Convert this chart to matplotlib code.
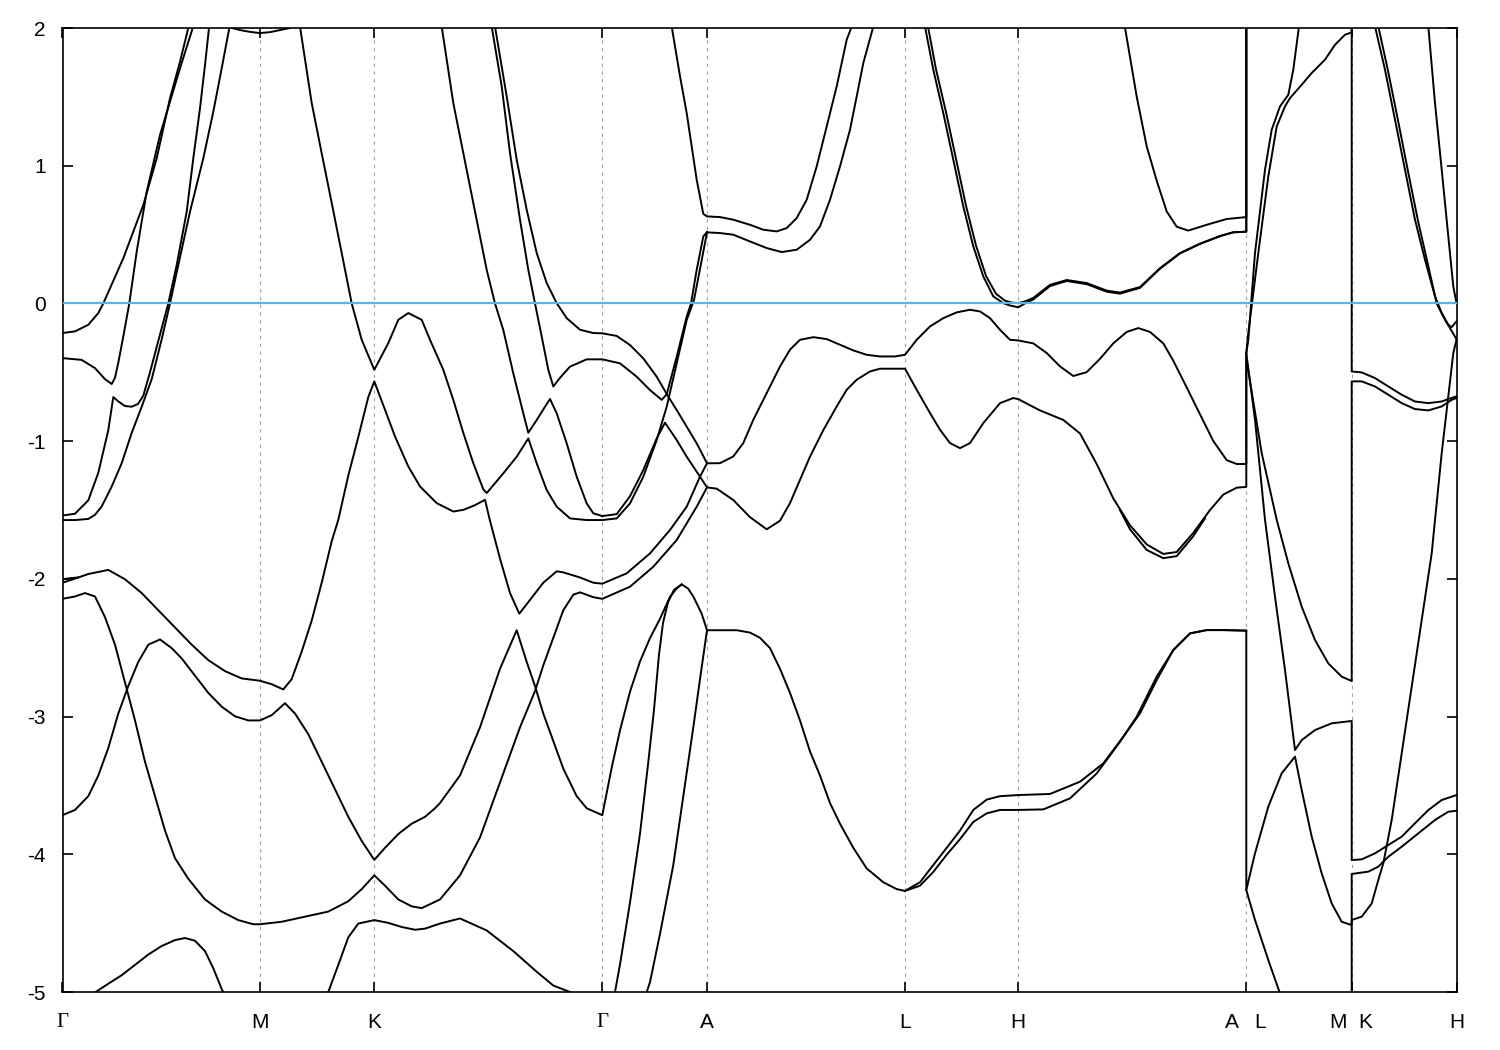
import matplotlib
matplotlib.use('Agg')
import matplotlib.pyplot as plt

plt.rcParams['font.family'] = ['Liberation Sans', 'DejaVu Sans']
plt.rcParams['axes.unicode_minus'] = False

# high-symmetry points along the path (path distance, arbitrary units)
sym_k = [62.5, 260, 374.3, 602.3, 707, 905, 1018.3, 1246.3, 1351.7, 1456.5]
sym_labels = ['Γ', 'M', 'K', 'Γ', 'A', 'L', 'H', 'A   L', 'M  K', 'H']

# ---- band pieces: k (path distance), E (eV) ----
b1_k = [62.5, 75, 88.3, 98.3, 103.3, 123.3, 143.3, 156.7, 170, 180, 188.3]
b1_e = [-0.215, -0.203, -0.155, -0.07, 0.0, 0.328, 0.715, 1.054, 1.49, 1.755, 2.0]

b2_k = [62.5, 81.7, 95, 105, 111.7, 115, 118.3, 123.3, 129.3, 136.7, 146.7, 160, 170, 180, 192.7]
b2_e = [-0.397, -0.41, -0.47, -0.55, -0.585, -0.54, -0.43, -0.24, 0.0, 0.376, 0.811, 1.223, 1.465, 1.707, 2.0]

b3_k = [62.5, 75, 88.3, 98.3, 108.3, 113.3, 118, 125, 131.7, 138, 143.3, 150, 158, 168.3, 176.7, 186.7,
        193.3, 200, 205, 209]
b3_e = [-1.54, -1.527, -1.43, -1.23, -0.92, -0.68, -0.71, -0.745, -0.75, -0.73, -0.67, -0.50, -0.28, 0.0,
        0.279, 0.666, 1.054, 1.417, 1.731, 2.0]

b4_k = [62.5, 75, 88.3, 95, 101.7, 111.7, 121.7, 131.7, 141.7, 151.7, 161.7, 170, 178.3, 190, 203.3, 213.3,
        221.7, 229.3]
b4_e = [-1.573, -1.573, -1.565, -1.535, -1.474, -1.33, -1.16, -0.94, -0.75, -0.55, -0.26, 0.0, 0.279, 0.666,
        1.054, 1.392, 1.707, 2.0]

m_top_k = [232, 240, 250, 260, 270, 280, 290]
m_top_e = [2.0, 1.985, 1.972, 1.963, 1.97, 1.985, 2.0]

c1_k = [300, 311.7, 321.7, 331.7, 341.7, 351.7, 361.7, 374.3, 388.3, 398.3, 408.3, 421.7, 430, 443.3, 453.3,
        463.3, 473.3, 483.3, 486.7, 503.3, 516.7, 528.3, 530, 536.7, 546.7, 556.7, 570, 586.7, 602.3, 616.7,
        630, 643.3, 656.7, 666.7, 676.7, 686.7, 694, 700, 707]
c1_e = [2.01, 1.455, 1.09, 0.73, 0.366, 0.0, -0.264, -0.482, -0.288, -0.119, -0.07, -0.119, -0.264, -0.482,
        -0.70, -0.94, -1.16, -1.35, -1.377, -1.234, -1.113, -0.98, -1.016, -1.161, -1.355, -1.476, -1.561,
        -1.573, -1.573, -1.561, -1.452, -1.258, -0.992, -0.75, -0.435, -0.12, 0.025, 0.25, 0.516]

u2_k = [707, 720, 733.3, 750, 766.7, 781.7, 796.7, 810, 820, 830, 840, 850, 856.7, 863.3, 873.3]
u2_e = [0.516, 0.511, 0.499, 0.45, 0.402, 0.373, 0.39, 0.462, 0.559, 0.753, 0.995, 1.261, 1.503, 1.745, 2.01]

u1_k = [671.7, 680, 686.7, 696.7, 703.3, 707, 720, 733.3, 750, 763.3, 776.7, 786.7, 796.7, 806.7, 816.7,
        826.7, 836.7, 846.7, 851.7]
u1_e = [2.01, 1.65, 1.382, 0.898, 0.65, 0.632, 0.627, 0.608, 0.571, 0.535, 0.523, 0.547, 0.620, 0.753, 0.995,
        1.285, 1.576, 1.915, 2.01]

c2a_k = [62.5, 75, 88.3, 108.3, 125, 141.7, 158.3, 175, 191.7, 208.3, 225, 241.7, 260, 271.7, 283.3, 291.7,
         301.7, 311.7, 321.7, 331.7, 338.3, 348.3, 358.3, 368.3, 374.3, 385, 395, 408.3, 420, 436.7, 453.3,
         463.3, 475, 485, 490, 500, 510, 519.3, 530, 543.3, 556.7, 563.3, 580, 593.3, 602.3, 626.7, 650, 670,
         686.7, 700, 707]
c2a_e = [-2.028, -1.998, -1.965, -1.935, -2.003, -2.103, -2.228, -2.353, -2.478, -2.59, -2.67, -2.723, -2.74,
         -2.765, -2.803, -2.728, -2.528, -2.303, -2.028, -1.727, -1.571, -1.25, -0.97, -0.68, -0.566, -0.772,
         -0.966, -1.184, -1.329, -1.45, -1.511, -1.499, -1.465, -1.426, -1.578, -1.853, -2.103, -2.253, -2.153,
         -2.028, -1.945, -1.953, -1.99, -2.028, -2.035, -1.96, -1.815, -1.645, -1.476, -1.258, -1.161]

# short split partner of the -2.0 eV band at the first Gamma
c2_pair_k = [62.5, 70, 78]
c2_pair_e = [-2.003, -1.995, -1.99]

c2b_k = [707, 720, 733.3, 743.3, 753.3, 766.7, 780, 790, 800, 813.3, 826.7, 840, 853.3, 866.7, 880, 895, 905,
         916.7, 930, 943.3, 956.7, 970, 980, 990, 1000, 1010, 1018.3, 1033.3, 1046.7, 1060, 1073.3, 1086.7,
         1100, 1113.3, 1126.7, 1138.3, 1150, 1163.3, 1173.3, 1186.7, 1200, 1213.3, 1226.7, 1236.7, 1246.3,
         1246.3, 1248.3, 1255, 1265, 1271.7, 1280, 1288.3, 1293.3, 1299]
c2b_e = [-1.161, -1.16, -1.111, -1.014, -0.845, -0.651, -0.458, -0.336, -0.264, -0.245, -0.259, -0.3, -0.341,
         -0.373, -0.385, -0.385, -0.373, -0.264, -0.167, -0.107, -0.065, -0.046, -0.058, -0.107, -0.191, -0.264,
         -0.269, -0.29, -0.36, -0.457, -0.527, -0.499, -0.402, -0.29, -0.207, -0.179, -0.207, -0.29, -0.416,
         -0.61, -0.805, -0.999, -1.138, -1.166, -1.166, -0.361, -0.264, 0.366, 0.971, 1.261, 1.431, 1.515,
         1.697, 2.012]

c3a_k = [62.5, 75, 85, 95, 105, 115, 125, 135, 145, 155, 165, 175, 188.3, 205, 221.7, 238.3, 253.3, 260,
         281.7, 305, 328.3, 348.3, 361.7, 374.3, 385, 398.3, 411.7, 421.7, 440, 460, 480, 500, 520, 535, 543.3,
         553.3, 563.3, 573.3, 580, 593.3, 602.3, 630, 653.3, 676.7, 696.7, 707]
c3a_e = [-2.145, -2.128, -2.103, -2.128, -2.278, -2.478, -2.753, -3.028, -3.328, -3.578, -3.828, -4.028,
         -4.178, -4.328, -4.416, -4.478, -4.508, -4.508, -4.49, -4.453, -4.416, -4.341, -4.253, -4.153, -4.228,
         -4.328, -4.378, -4.391, -4.328, -4.153, -3.878, -3.478, -3.078, -2.815, -2.628, -2.428, -2.228,
         -2.115, -2.098, -2.133, -2.145, -2.057, -1.912, -1.718, -1.476, -1.336]

c3b_k = [707, 716.7, 733.3, 750, 766.7, 780, 790, 800, 810, 823.3, 836.7, 846.7, 856.7, 870, 880, 905, 916.7,
         930, 940, 950, 960, 970, 983.3, 1000, 1013.3, 1018.3, 1040, 1063.3, 1080, 1096.7, 1113.3, 1130, 1146.7,
         1163.3, 1176.7, 1193.3, 1210, 1223.3, 1236.7, 1246.3, 1246.3, 1255, 1265, 1275, 1285, 1295, 1301.7,
         1315, 1331.7, 1351.7, 1351.7, 1361.7, 1375, 1388.3, 1401.7, 1415, 1428.3, 1441.7, 1456.5]
c3b_e = [-1.336, -1.345, -1.4275, -1.552, -1.64, -1.578, -1.45, -1.281, -1.113, -0.92, -0.748, -0.627, -0.554,
         -0.494, -0.474, -0.474, -0.627, -0.796, -0.917, -1.014, -1.051, -1.014, -0.869, -0.724, -0.687, -0.695,
         -0.777, -0.846, -0.944, -1.166, -1.416, -1.611, -1.75, -1.819, -1.805, -1.666, -1.5, -1.388, -1.338,
         -1.332, -0.361, -0.845, -1.571, -2.13, -2.662, -3.243, -3.171, -3.098, -3.049, -3.032, -4.042, -4.037,
         -3.993, -3.933, -3.872, -3.775, -3.679, -3.606, -3.57]

# second line of the split pair around the H-A minimum
c3_dup_k = [1120, 1130, 1146.7, 1163.3, 1176.7, 1193.3, 1205]
c3_dup_e = [-1.50, -1.64, -1.79, -1.85, -1.835, -1.69, -1.56]

c4_k = [62.5, 75, 88.3, 98.3, 108.3, 118.3, 128.3, 138.3, 148.3, 160, 171.7, 181.7, 195, 208.3, 221.7, 235,
        248.3, 260, 271.7, 285, 295, 308.3, 321.7, 335, 348.3, 361.7, 374.3, 385, 398.3, 411.7, 425, 435, 440,
        460, 480, 500, 516.7, 526.7, 535, 543.3, 553.3, 563.3, 576.7, 586.7, 602.3, 606, 612, 620, 630, 640,
        650, 660, 670, 676.7, 681.7]
c4_e = [-3.716, -3.678, -3.578, -3.428, -3.228, -2.978, -2.778, -2.603, -2.478, -2.44, -2.503, -2.578, -2.703,
        -2.828, -2.928, -2.998, -3.028, -3.028, -2.99, -2.903, -2.978, -3.128, -3.328, -3.528, -3.728, -3.903,
        -4.041, -3.953, -3.853, -3.778, -3.728, -3.666, -3.628, -3.428, -3.078, -2.653, -2.373, -2.603, -2.778,
        -2.978, -3.178, -3.378, -3.578, -3.666, -3.716, -3.58, -3.36, -3.10, -2.82, -2.60, -2.43, -2.29, -2.13,
        -2.07, -2.04]

c5_k = [328.3, 338.3, 348.3, 358.3, 374.3, 388.3, 401.7, 415, 425, 440, 460, 486.7, 513.3, 536.7, 553.3, 570]
c5_e = [-5.0, -4.803, -4.603, -4.503, -4.478, -4.498, -4.528, -4.548, -4.54, -4.503, -4.466, -4.553, -4.703,
        -4.853, -4.953, -5.0]

c6_k = [95, 108.3, 121.7, 135, 148.3, 161.7, 175, 185, 195, 205, 213.3, 221.7, 223.3]
c6_e = [-5.003, -4.94, -4.878, -4.803, -4.728, -4.666, -4.623, -4.608, -4.628, -4.703, -4.828, -4.978, -5.003]

q1_k = [495, 506.7, 516.7, 526.7, 536.7, 546.7, 556.7, 566.7, 580, 593.3, 602.3, 616.7, 630, 643.3, 656.7,
        668.3, 676.7, 686.7, 696.7, 707]
q1_e = [2.01, 1.503, 1.043, 0.68, 0.366, 0.148, 0.002, -0.107, -0.191, -0.215, -0.217, -0.236, -0.302, -0.399,
        -0.532, -0.677, -0.774, -0.895, -1.016, -1.161]

q2_k = [491.7, 501.7, 510, 520, 528.3, 535, 541.7, 548.3, 553.3, 560, 570, 586.7, 602.3, 620, 636.7, 650,
        661.7, 666.7, 676.7, 686.7, 691, 696.7, 703.3, 707]
q2_e = [2.01, 1.576, 1.092, 0.608, 0.244, 0.0, -0.24, -0.482, -0.603, -0.54, -0.459, -0.406, -0.406, -0.435,
        -0.532, -0.629, -0.70, -0.66, -0.387, -0.096, 0.0, 0.244, 0.487, 0.518]

q4_k = [441.7, 453.3, 463.3, 473.3, 486.7, 495, 503.3, 513.3, 523.3, 528.3, 536.7, 545, 550, 556.7, 566.7,
        576.7, 586.7, 593.3, 602.3, 616.7, 630, 643.3, 656.7, 665, 676.7, 686.7, 700, 707]
q4_e = [2.01, 1.455, 1.092, 0.729, 0.244, 0.0, -0.193, -0.508, -0.798, -0.939, -0.847, -0.75, -0.694, -0.798,
        -1.016, -1.258, -1.452, -1.524, -1.544, -1.53, -1.40, -1.21, -0.98, -0.866, -0.992, -1.113, -1.258,
        -1.336]

ga_k = [615, 620, 630, 640, 648, 654, 659, 663, 668, 674, 681.7, 688, 693.3, 701.7, 707]
ga_e = [-5.0, -4.80, -4.35, -3.85, -3.35, -2.95, -2.55, -2.32, -2.17, -2.08, -2.04, -2.07, -2.128, -2.253, -2.373]

gb_k = [646.7, 650, 660, 673.3, 683.3, 693.3, 700, 707]
gb_e = [-5.0, -4.928, -4.578, -4.078, -3.578, -3.078, -2.728, -2.373]

w1_k = [925, 933.3, 943.3, 953.3, 963.3, 973.3, 983.3, 993.3, 1003.3, 1010, 1018.3, 1025, 1033.3, 1050, 1066.7,
        1086.7, 1106.7, 1120, 1140, 1160, 1180, 1200, 1220, 1233.3, 1246.3, 1246.3]
w1_e = [2.01, 1.697, 1.382, 1.043, 0.704, 0.414, 0.196, 0.051, 0.002, -0.015, -0.028, 0.0, 0.029, 0.126, 0.163,
        0.14, 0.085, 0.071, 0.113, 0.252, 0.363, 0.432, 0.488, 0.516, 0.521, 2.6]
w2_k = [928, 936, 946, 956, 966, 976, 986, 996, 1005, 1012, 1018.3, 1025, 1033.3, 1050, 1066.7, 1086.7,
        1106.7, 1120, 1140, 1160, 1180, 1200, 1220, 1233.3, 1246.3, 1246.3]
w2_e = [2.01, 1.70, 1.39, 1.05, 0.71, 0.42, 0.20, 0.07, 0.02, 0.006, 0.002, 0.015, 0.04, 0.135, 0.17, 0.148,
        0.093, 0.079, 0.119, 0.256, 0.366, 0.434, 0.49, 0.517, 0.521, 2.6]

v1_k = [1125, 1136.7, 1146.7, 1156.7, 1166.7, 1176.7, 1188.3, 1206.7, 1226.7, 1246.3, 1246.3]
v1_e = [2.003, 1.502, 1.141, 0.891, 0.668, 0.557, 0.529, 0.571, 0.613, 0.627, 2.6]

c7_k = [707, 720, 736.7, 750, 760, 770, 780, 790, 800, 810, 820, 830, 840, 853.3, 866.7, 883.3, 896.7, 905,
        920, 933.3, 946.7, 960, 973.3, 986.7, 1000, 1018.3, 1043.3, 1070, 1096.7, 1120, 1136.7, 1156.7, 1173.3,
        1190, 1206.7, 1223.3, 1246.3, 1246.3, 1255, 1268.3, 1281.7, 1295, 1301.7, 1311.7, 1321.7, 1331.7,
        1341.7, 1351.7, 1351.7, 1368.3, 1378.3, 1388.3, 1401.7, 1418.3, 1435, 1448.3, 1456.5]
c7_e = [-2.373, -2.373, -2.373, -2.39, -2.428, -2.503, -2.653, -2.828, -3.028, -3.253, -3.428, -3.628, -3.778,
        -3.953, -4.103, -4.203, -4.253, -4.266, -4.228, -4.128, -4.003, -3.89, -3.765, -3.703, -3.678, -3.678,
        -3.674, -3.594, -3.413, -3.183, -3.001, -2.71, -2.517, -2.396, -2.372, -2.372, -2.376, -4.26, -3.993,
        -3.654, -3.412, -3.291, -3.534, -3.872, -4.139, -4.357, -4.49, -4.514, -4.143, -4.126, -4.09, -4.018,
        -3.945, -3.848, -3.751, -3.691, -3.684]

c8_k = [905, 920, 933.3, 946.7, 960, 973.3, 986.7, 1000, 1018.3, 1050, 1080, 1103.3, 1123.3, 1140, 1156.7,
        1173.3, 1190, 1206.7, 1223.3, 1246.3]
c8_e = [-4.266, -4.203, -4.078, -3.953, -3.828, -3.678, -3.603, -3.578, -3.57, -3.562, -3.473, -3.34, -3.146,
        -2.977, -2.735, -2.517, -2.396, -2.372, -2.372, -2.376]

l_down_k = [1246.3, 1255, 1268.3, 1280]
l_down_e = [-4.26, -4.477, -4.768, -5.01]

lb_k = [1246.3, 1248.3, 1258.3, 1268.3, 1276.7, 1285, 1290, 1301.7, 1311.7, 1325, 1335, 1345, 1351.7, 1351.7]
lb_e = [-0.361, -0.215, 0.366, 0.922, 1.285, 1.431, 1.491, 1.588, 1.673, 1.77, 1.878, 1.951, 1.968, 2.6]

ld2_k = [1246.3, 1261.7, 1276.7, 1288.3, 1301.7, 1315, 1328.3, 1341.7, 1351.7, 1351.7, 1361.7, 1375, 1388.3,
         1401.7, 1415, 1428.3, 1441.7, 1451.7, 1456.5]
ld2_e = [-0.40, -1.087, -1.571, -1.887, -2.202, -2.444, -2.614, -2.71, -2.742, -0.566, -0.566, -0.603, -0.663,
         -0.724, -0.767, -0.777, -0.748, -0.70, -0.687]

kt_k = [1351.7, 1351.7, 1361.7, 1375, 1388.3, 1401.7, 1415, 1428.3, 1441.7, 1450, 1456.5]
kt_e = [2.6, -0.494, -0.501, -0.542, -0.603, -0.663, -0.712, -0.724, -0.712, -0.69, -0.675]

kr_k = [1351.7, 1351.7, 1361.7, 1371.7, 1378.3, 1383.3, 1391.7, 1401.7, 1411.7, 1421.7, 1431.7, 1435, 1441.7,
        1448.3, 1453.3, 1456.5]
kr_e = [-5.3, -4.477, -4.453, -4.357, -4.187, -4.066, -3.751, -3.267, -2.783, -2.299, -1.815, -1.573, -1.087,
        -0.675, -0.361, -0.264]

t1_k = [1375, 1385, 1395, 1405, 1415, 1425, 1435, 1441.7, 1448.3, 1451.7, 1455, 1456.5]
t1_e = [2.012, 1.697, 1.334, 0.971, 0.608, 0.317, 0.051, -0.07, -0.155, -0.172, -0.143, -0.13]
t2_k = [1378.3, 1388, 1398, 1408, 1418, 1428, 1436.7, 1445, 1451.7, 1456.5]
t2_e = [2.012, 1.69, 1.33, 0.96, 0.60, 0.28, 0.0, -0.119, -0.20, -0.26]
t3_k = [1428.3, 1435, 1441.7, 1448.3, 1453.3, 1456.5]
t3_e = [2.012, 1.455, 0.971, 0.487, 0.123, 0.002]

bands = [
    (b1_k, b1_e), (b2_k, b2_e), (b3_k, b3_e), (b4_k, b4_e), (m_top_k, m_top_e),
    (c1_k, c1_e), (u1_k, u1_e), (u2_k, u2_e), (c2a_k, c2a_e), (c2_pair_k, c2_pair_e), (c2b_k, c2b_e),
    (c3a_k, c3a_e), (c3b_k, c3b_e), (c3_dup_k, c3_dup_e), (c4_k, c4_e), (c5_k, c5_e),
    (c6_k, c6_e), (q1_k, q1_e), (q2_k, q2_e), (q4_k, q4_e), (ga_k, ga_e), (gb_k, gb_e),
    (w1_k, w1_e), (w2_k, w2_e), (v1_k, v1_e), (c7_k, c7_e), (c8_k, c8_e),
    (l_down_k, l_down_e), (lb_k, lb_e), (ld2_k, ld2_e), (kt_k, kt_e), (kr_k, kr_e),
    (t1_k, t1_e), (t2_k, t2_e), (t3_k, t3_e),
]

fig = plt.figure(figsize=(15, 10.5), dpi=100)
ax = fig.add_axes([62.5 / 1500, 58 / 1050, 1394 / 1500, 964 / 1050])

# dotted markers at the inner high-symmetry points
for k in sym_k[1:-1]:
    ax.axvline(k, color='#a0a0a0', lw=0.8, linestyle=(0, (3, 4)), zorder=1)

for k, e in bands:
    ax.plot(k, e, color='black', lw=1.4, zorder=2, solid_joinstyle='round')

# Fermi level
ax.axhline(0, color='#56b4e9', lw=1.6, zorder=3)

ax.set_xlim(sym_k[0], sym_k[-1])
ax.set_ylim(-5, 2)
ax.set_yticks(range(-5, 3))
ax.set_yticklabels([str(v) for v in range(-5, 3)])
ax.set_xticks(sym_k)
ax.set_xticklabels(sym_labels)
for lbl in ax.get_xticklabels():
    if lbl.get_text() == 'Γ':
        lbl.set_family(['Liberation Serif', 'DejaVu Serif'])

ax.tick_params(axis='both', direction='in', length=7, width=1.2, labelsize=15,
               top=True, right=True, color='black')
ax.tick_params(axis='x', pad=15)
ax.tick_params(axis='y', pad=12)
for sp in ax.spines.values():
    sp.set_linewidth(1.2)

fig.savefig('out.png', dpi=100)
